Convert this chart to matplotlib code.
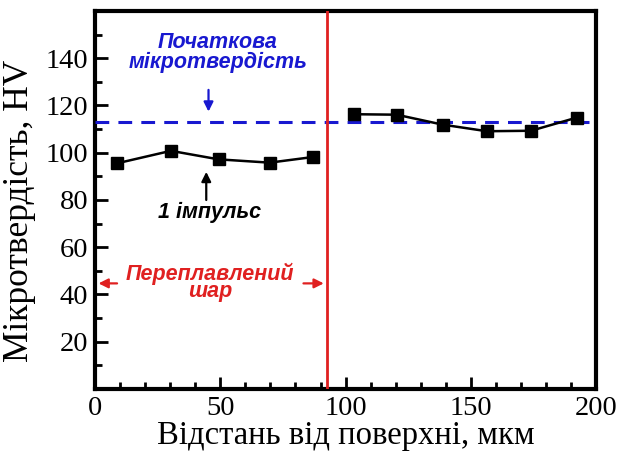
import matplotlib
matplotlib.use('Agg')
import matplotlib.pyplot as plt
from matplotlib.ticker import MultipleLocator, FixedLocator

# distance from surface, um / microhardness, HV
remelted_x = [8.7, 30.3, 49.3, 69.7, 87.1]
remelted_hv = [95.5, 100.8, 97.2, 95.8, 98.2]
base_x = [103.3, 120.4, 138.7, 156.4, 174.0, 192.4]
base_hv = [116.3, 116.1, 111.9, 109.1, 109.3, 114.9]

initial_hv = 112.8
layer_depth = 92.4

y_ticks = [20, 40, 60, 80, 100, 120, 140]
x_ticks = [0, 50, 100, 150, 200]

SERIF = 'Liberation Serif'
SANS = 'Liberation Sans'
BLUE = '#1818d0'
RED = '#e02020'

fig = plt.figure(figsize=(6.19, 4.57), dpi=100)
ax = fig.add_axes([0.1535, 0.1488, 0.8095, 0.8272])

ax.plot(remelted_x, remelted_hv, '-s', color='black', lw=1.8,
        markersize=8, zorder=4)
ax.plot(base_x, base_hv, '-s', color='black', lw=1.8,
        markersize=8, zorder=4)

ax.plot([0, 197], [initial_hv, initial_hv], '--', color=BLUE,
        lw=2.2, dashes=(4.5, 3), zorder=3)
ax.axvline(layer_depth, color=RED, lw=2.0, zorder=3)

ax.set_xlim(0, 200)
ax.set_ylim(0, 160)

ax.xaxis.set_major_locator(FixedLocator(x_ticks))
ax.xaxis.set_minor_locator(MultipleLocator(10))
ax.yaxis.set_major_locator(FixedLocator(y_ticks))
ax.yaxis.set_minor_locator(MultipleLocator(10))

ax.tick_params(which='both', direction='in', width=2, top=False, right=False,
               labelsize=20.5)
ax.tick_params(which='major', length=9, pad=5)
ax.tick_params(which='minor', length=5)
for lab in ax.get_xticklabels() + ax.get_yticklabels():
    lab.set_fontfamily(SERIF)
for sp in ax.spines.values():
    sp.set_linewidth(3)

ax.set_xlabel('Відстань від поверхні, мкм', fontfamily=SERIF, fontsize=23.5,
              labelpad=0)
ax.set_ylabel('Мікротвердість, HV', fontfamily=SERIF, fontsize=25.5)
ax.yaxis.set_label_coords(-0.118, 0.47)

# annotations
txt = dict(fontfamily=SANS, fontweight='bold', fontstyle='italic',
           fontsize=15.5, ha='center')
arrow = dict(arrowstyle='-|>', lw=1.6, mutation_scale=14,
             shrinkA=0, shrinkB=0)

ax.text(49, 142.3, 'Початкова\nмікротвердість', color=BLUE,
        linespacing=0.93, va='center', **txt)
ax.annotate('', xy=(45.3, 117.4), xytext=(45.3, 126.6),
            arrowprops=dict(color=BLUE, **arrow))

ax.text(45.8, 74.9, '1 імпульс', color='black', va='center', **txt)
ax.annotate('', xy=(44.4, 91.9), xytext=(44.4, 80.0),
            arrowprops=dict(color='black', **arrow))

ax.text(46.0, 53.6, 'Переплавлений\nшар', color=RED, linespacing=0.74,
        va='top', **txt)
ax.annotate('', xy=(1.4, 44.7), xytext=(8.8, 44.7),
            arrowprops=dict(color=RED, **arrow))
ax.annotate('', xy=(91.3, 44.7), xytext=(83.2, 44.7),
            arrowprops=dict(color=RED, **arrow))

fig.savefig('out.png', dpi=100)
